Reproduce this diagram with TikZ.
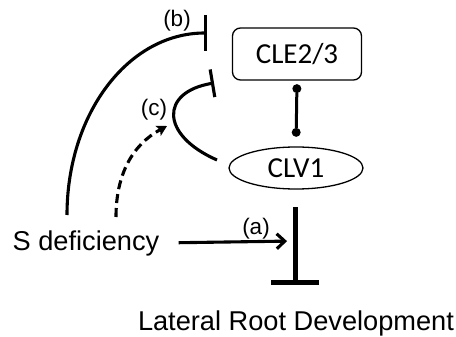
\documentclass[tikz,border=0pt]{standalone}
\usepackage{fontspec}
\setmainfont{Liberation Sans}
\newfontfamily\carlito{Carlito}
\usetikzlibrary{shapes.geometric,arrows.meta}
\begin{document}
\begin{tikzpicture}[x=1pt,y=-1pt,
  boxtext/.style={font=\carlito\fontsize{29}{32}\selectfont},
  bigtext/.style={font=\fontsize{27.2}{30}\selectfont, inner sep=0pt},
  lbl/.style={font=\fontsize{22.5}{26}\selectfont, inner sep=0pt},
  inh/.style={line width=3.1pt},
  act/.style={line width=3.1pt, -{Straight Barb[length=8pt,width=15pt,line width=3.1pt]}},
  dsh/.style={line width=3.1pt, dash pattern=on 9pt off 5pt, -{Stealth[length=10pt,width=11pt,inset=2pt]}},
]
\useasboundingbox (0,0) rectangle (456,337);
\node[boxtext, draw, line width=1.3pt, rounded corners=8pt, minimum width=129pt, minimum height=52pt] (cle) at (297,54) {CLE2/3};
\node[boxtext, draw, line width=1.3pt, ellipse, minimum width=134pt, minimum height=42pt, inner sep=0pt] (clv) at (296,168) {CLV1};
\node[bigtext] (sdef) at (86,243) {S deficiency};
\node[bigtext] (lrd) at (296,323) {Lateral Root Development};
\node[lbl] (la) at (256,229) {(a)};
\node[lbl] (lb) at (177,21) {(b)};
\node[lbl] (lc) at (154,110) {(c)};
% binding connector
\draw[line width=3pt, {Circle[length=9pt 0 0,width=9pt 0 0,line width=0pt]}-{Circle[length=9pt 0 0,width=9pt 0 0,line width=0pt]}, shorten <=3.5pt, shorten >=9.5pt] (cle.south) -- (clv.north);
% big inhibition
\coordinate (stemtop) at (295,207);
\coordinate (stembot) at (295,285);
\coordinate (stemmid) at (295,241);
\draw[line width=5pt, -{Bar[width=48pt 0 0,line width=5pt]}] (stemtop) -- (stembot);
% (a)
\draw[act, shorten <=19pt, shorten >=8pt] (sdef.east) -- (stemmid);
% (b)
\coordinate (bs) at (67,215);
\coordinate (be) at (207,33);
\draw[inh, -{Bar[width=36pt 0 0,line width=3.1pt]}] (bs) .. controls (67,114) and (128,33) .. (be);
% (c) inhibition curve
\coordinate (cs) at (217,160);
\coordinate (ce) at (214,83);
\draw[inh, -{Bar[width=28pt 0 0,line width=3.1pt]}] (cs) .. controls (160,135) and (160,92) .. (ce);
% (c) dashed arrow
\coordinate (ds) at (116,217);
\coordinate (de) at (167,126);
\draw[dsh] (ds) .. controls (116,175) and (132,145) .. (de);
\end{tikzpicture}
\end{document}
